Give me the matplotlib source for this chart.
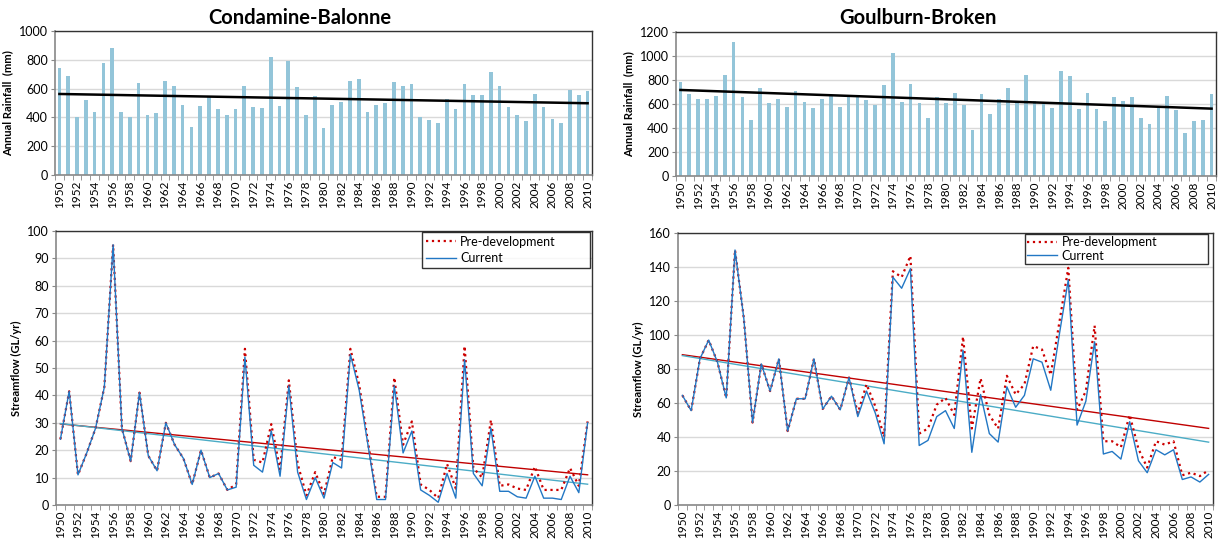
import numpy as np
import matplotlib
matplotlib.use("Agg")
import matplotlib.pyplot as plt
from matplotlib.ticker import MultipleLocator

plt.rcParams['font.family'] = ['Lato', 'DejaVu Sans']

years = list(range(1950, 2011))

# annual rainfall (mm)
cb_rain = [740, 685, 405, 520, 440, 775, 885, 435, 405, 640,
           420, 430, 655, 620, 485, 333, 478, 545, 455, 416,
           455, 615, 470, 466, 820, 478, 795, 610, 415, 550,
           325, 485, 510, 650, 670, 435, 485, 503, 645, 620,
           630, 400, 380, 358, 525, 455, 630, 555, 555, 715,
           620, 471, 415, 375, 565, 471, 388, 360, 590, 555,
           580]
gb_rain = [785, 680, 645, 640, 665, 845, 1115, 655, 465, 735,
           605, 640, 575, 710, 620, 565, 645, 675, 575, 665,
           655, 630, 590, 755, 1025, 620, 765, 610, 480, 655,
           610, 695, 590, 385, 680, 515, 645, 730, 610, 845,
           625, 610, 570, 875, 830, 555, 695, 560, 455, 655,
           625, 660, 485, 435, 575, 670, 550, 360, 455, 470,
           680]

# streamflow (GL/yr)
cb_pre = [24, 41.5, 11, 19, 28, 43, 95, 28, 16, 41,
          18, 12.5, 30, 22, 17, 7.5, 20, 10, 11.5, 5.5,
          7.5, 57, 16.5, 15.5, 29.5, 13, 45.5, 15, 3.5, 12,
          4, 17.5, 16.5, 57, 44, 23, 3, 3, 46.5, 22,
          30.5, 7.5, 5.5, 2.5, 15, 6, 58, 13.5, 10, 31,
          7, 7.5, 6, 5.5, 14, 5.5, 5.5, 5.5, 13.5, 7,
          30.5]
cb_cur = [24, 41.5, 11, 19, 28, 43, 95, 28, 16, 41,
          18, 12.5, 30, 22, 17, 7.5, 20, 10, 11.5, 5.5,
          6.5, 54, 14.5, 12, 27, 10.5, 43.5, 12, 2, 10,
          2.5, 15.5, 13.5, 55, 42, 22, 2, 2, 43.5, 19,
          27, 5.5, 3.5, 1, 11.5, 2.5, 53, 11.5, 7, 28,
          5, 5, 3, 2.5, 10.5, 2.5, 2.5, 2, 10.5, 4.5,
          30]
gb_pre = [64.5, 55.5, 86, 97, 84, 63, 150, 110, 48.5, 83,
          67, 86, 43.5, 62.5, 62.5, 86, 56.5, 64, 56, 75,
          54, 71, 58, 40, 137.5, 134, 146.5, 42, 45, 59,
          63, 53, 99, 45, 74.5, 53, 45, 76, 65, 71,
          93.5, 91.5, 76.5, 108, 139.5, 56, 67, 105.5, 37.5, 37.5,
          34, 53, 33, 22, 37.5, 35.5, 37.5, 17.5, 19, 17,
          20.5]
gb_cur = [64.5, 55.5, 86, 97, 84, 63, 150, 110, 48.5, 83,
          67, 86, 43.5, 62.5, 62.5, 86, 56.5, 64, 56, 75,
          52, 67, 54, 36, 134, 127.5, 139, 35, 38, 52,
          55.5, 45, 91, 31, 65, 42, 37, 69.5, 57.5, 64.5,
          86, 84, 67.5, 101, 132.5, 47, 61, 96, 30, 31.5,
          27, 49, 26, 19, 32.5, 29.5, 32.5, 15, 16.5, 13.5,
          18]

bar_color = '#93c5d9'
pre_color = '#cc0000'
cur_color = '#2277c4'
pre_trend = '#c00000'
cur_trend = '#4bacc6'

fig = plt.figure(figsize=(12.19, 5.41), dpi=100)
W, H = 1219, 541


def make_axes(left, top, right, bottom):
    return fig.add_axes([left / W, 1 - bottom / H, (right - left) / W, (bottom - top) / H])


def style_axes(ax, ymax, ystep, ylabel):
    ax.set_xlim(1949.5, 2010.5)
    ax.set_ylim(0, ymax)
    ax.yaxis.set_major_locator(MultipleLocator(ystep))
    ax.set_xticks(years[::2])
    ax.set_xticklabels([str(y) for y in years[::2]], rotation=90, fontsize=8.5)
    ax.set_xticks(np.arange(1949.5, 2011, 1), minor=True)
    ax.tick_params(axis='x', which='major', length=0, pad=4)
    ax.tick_params(axis='x', which='minor', length=3.5, color='#888888')
    ax.tick_params(axis='y', length=3, color='#888888', labelsize=9, pad=2)
    ax.grid(axis='y', color='#d9d9d9', linewidth=1)
    ax.set_axisbelow(True)
    for s in ['left', 'bottom']:
        ax.spines[s].set_color('#888888')
        ax.spines[s].set_linewidth(1.2)
    for s in ['top', 'right']:
        ax.spines[s].set_color('#333333')
        ax.spines[s].set_linewidth(1.0)
    ax.set_ylabel(ylabel, fontsize=8, fontweight='bold', labelpad=4)


def trend(y):
    x = np.array(years)
    k, b = np.polyfit(x, np.array(y, dtype=float), 1)
    return x, k * x + b


def rain_panel(ax, rain, ymax):
    ax.bar(years, rain, width=0.42, color=bar_color, zorder=2)
    tx, ty = trend(rain)
    ax.plot(tx, ty, color='black', linewidth=1.8, zorder=3)
    style_axes(ax, ymax, 200, 'Annual Rainfall  (mm)')


def flow_panel(ax, pre, cur, ymax, ystep, box, spacing, pad):
    ax.plot(years, pre, color=pre_color, linestyle=':', linewidth=1.6,
            label='Pre-development', zorder=3)
    ax.plot(years, cur, color=cur_color, linewidth=1.0, label='Current', zorder=4)
    tx, ty = trend(pre)
    ax.plot(tx, ty, color=pre_trend, linewidth=1.0, zorder=2)
    tx, ty = trend(cur)
    ax.plot(tx, ty, color=cur_trend, linewidth=1.0, zorder=2)
    style_axes(ax, ymax, ystep, 'Streamflow (GL/yr)')
    leg = ax.legend(loc='upper left', bbox_to_anchor=box, mode='expand',
                    fontsize=9, frameon=True, fancybox=False,
                    borderaxespad=0, handlelength=2.4, borderpad=pad,
                    labelspacing=spacing, handletextpad=0.35)
    leg.get_frame().set_edgecolor('black')
    leg.get_frame().set_linewidth(1.0)


ax1 = make_axes(55, 31, 592, 175)
rain_panel(ax1, cb_rain, 1000)
fig.text(300 / W, 1 - 18 / H, 'Condamine-Balonne', fontsize=14.5,
         fontweight='bold', ha='center', va='center')

ax2 = make_axes(676, 32, 1216, 176)
rain_panel(ax2, gb_rain, 1200)
fig.text(918 / W, 1 - 18 / H, 'Goulburn-Broken', fontsize=14.5,
         fontweight='bold', ha='center', va='center')

ax3 = make_axes(56, 231, 592, 505)
flow_panel(ax3, cb_pre, cb_cur, 100, 10, (0.683, 0.0, 0.313, 0.996), 0.35, 0.3)

ax4 = make_axes(678, 233, 1213, 505)
flow_panel(ax4, gb_pre, gb_cur, 160, 20, (0.649, 0.0, 0.342, 0.996), 0.12, 0.18)

fig.savefig('out.png', dpi=100)
